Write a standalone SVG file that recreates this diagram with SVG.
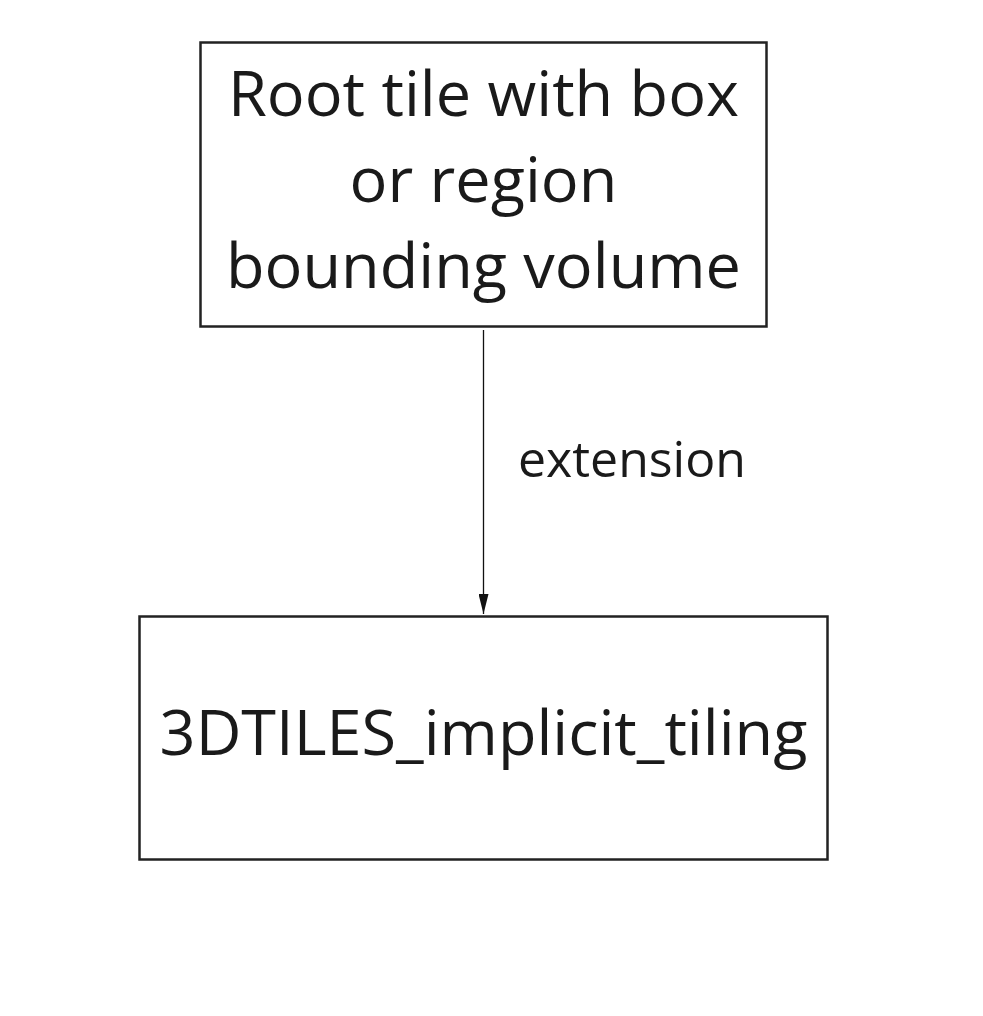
<svg xmlns="http://www.w3.org/2000/svg" width="983" height="1016" viewBox="0 0 983 1016">
<style>
.node{fill:#fff;stroke:#222;stroke-width:2.5}
.t{font-family:"Open Sans",sans-serif;fill:#1a1a1a;text-anchor:middle}
.edge{stroke:#111;stroke-width:1.3;fill:none}
</style>
<defs>
<marker id="arr" markerWidth="20" markerHeight="10" refX="20" refY="5" orient="auto" markerUnits="userSpaceOnUse" viewBox="0 0 20 10">
<path d="M0,0 L20,5 L0,10 Z" fill="#111"/>
</marker>
</defs>
<rect width="983" height="1016" fill="#fff"/>
<g id="connectors">
<line class="edge" x1="483.5" y1="330" x2="483.5" y2="614" marker-end="url(#arr)"/>
<text class="t" x="632" y="477" font-size="50">extension</text>
</g>
<g id="root">
<rect class="node" x="200.5" y="42.5" width="566" height="284"/>
<text class="t" x="483.5" y="116" font-size="63">Root tile with box</text>
<text class="t" x="483.5" y="202" font-size="63">or region</text>
<text class="t" x="483.5" y="288" font-size="63">bounding volume</text>
</g>
<g id="implicit">
<rect class="node" x="139.5" y="616.5" width="688" height="243"/>
<text class="t" x="483.5" y="755" font-size="63">3DTILES_implicit_tiling</text>
</g>
</svg>
